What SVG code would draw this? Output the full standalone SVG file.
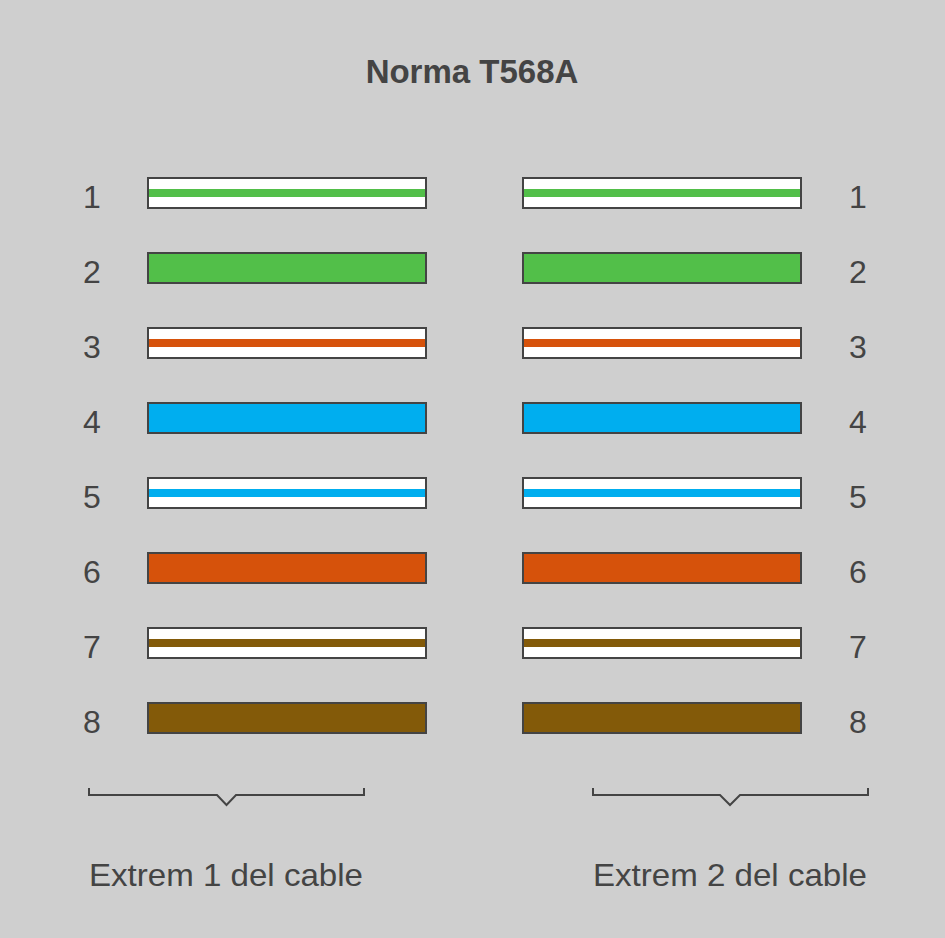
<svg xmlns="http://www.w3.org/2000/svg" width="945" height="938" viewBox="0 0 945 938">
<style>
.t{font-family:"Liberation Sans",Arial,sans-serif;fill:#444;font-size:32px}
.n{text-anchor:middle}
.title{font-weight:bold;text-anchor:middle;font-size:33px}
.w{fill:#fff;stroke:#444;stroke-width:2}
.br{fill:none;stroke:#444;stroke-width:2}
.g{fill:#52bf49}.o{fill:#d6520b}.b{fill:#00aeef}.bn{fill:#835a09}
</style>
<rect width="945" height="938" fill="#cfcfcf"/>
<text class="t title" x="472" y="83">Norma T568A</text>
<defs>
<g id="s1"><rect class="w" x="0" y="0" width="278" height="30"/><rect class="g" x="1" y="11" width="276" height="8"/></g>
<g id="s2"><rect class="w g" x="0" y="0" width="278" height="30"/></g>
<g id="s3"><rect class="w" x="0" y="0" width="278" height="30"/><rect class="o" x="1" y="11" width="276" height="8"/></g>
<g id="s4"><rect class="w b" x="0" y="0" width="278" height="30"/></g>
<g id="s5"><rect class="w" x="0" y="0" width="278" height="30"/><rect class="b" x="1" y="11" width="276" height="8"/></g>
<g id="s6"><rect class="w o" x="0" y="0" width="278" height="30"/></g>
<g id="s7"><rect class="w" x="0" y="0" width="278" height="30"/><rect class="bn" x="1" y="11" width="276" height="8"/></g>
<g id="s8"><rect class="w bn" x="0" y="0" width="278" height="30"/></g>
</defs>
<g id="end1">
<g id="e1-1"><text class="t n" x="92" y="208">1</text><use href="#s1" x="148" y="178"/></g>
<g id="e1-2"><text class="t n" x="92" y="283">2</text><use href="#s2" x="148" y="253"/></g>
<g id="e1-3"><text class="t n" x="92" y="358">3</text><use href="#s3" x="148" y="328"/></g>
<g id="e1-4"><text class="t n" x="92" y="433">4</text><use href="#s4" x="148" y="403"/></g>
<g id="e1-5"><text class="t n" x="92" y="508">5</text><use href="#s5" x="148" y="478"/></g>
<g id="e1-6"><text class="t n" x="92" y="583">6</text><use href="#s6" x="148" y="553"/></g>
<g id="e1-7"><text class="t n" x="92" y="658">7</text><use href="#s7" x="148" y="628"/></g>
<g id="e1-8"><text class="t n" x="92" y="733">8</text><use href="#s8" x="148" y="703"/></g>
</g>
<g id="end2">
<g id="e2-1"><use href="#s1" x="523" y="178"/><text class="t n" x="858" y="208">1</text></g>
<g id="e2-2"><use href="#s2" x="523" y="253"/><text class="t n" x="858" y="283">2</text></g>
<g id="e2-3"><use href="#s3" x="523" y="328"/><text class="t n" x="858" y="358">3</text></g>
<g id="e2-4"><use href="#s4" x="523" y="403"/><text class="t n" x="858" y="433">4</text></g>
<g id="e2-5"><use href="#s5" x="523" y="478"/><text class="t n" x="858" y="508">5</text></g>
<g id="e2-6"><use href="#s6" x="523" y="553"/><text class="t n" x="858" y="583">6</text></g>
<g id="e2-7"><use href="#s7" x="523" y="628"/><text class="t n" x="858" y="658">7</text></g>
<g id="e2-8"><use href="#s8" x="523" y="703"/><text class="t n" x="858" y="733">8</text></g>
</g>
<g id="connectors">
<path class="br" d="M89 788V795H217L226.5 805L236 795H364V788"/>
<path class="br" d="M593 788V795H720L730 805L740 795H868V788"/>
</g>
<g id="labels">
<text class="t" x="89" y="886" textLength="274" lengthAdjust="spacingAndGlyphs">Extrem 1 del cable</text>
<text class="t" x="593" y="886" textLength="274" lengthAdjust="spacingAndGlyphs">Extrem 2 del cable</text>
</g>
</svg>
